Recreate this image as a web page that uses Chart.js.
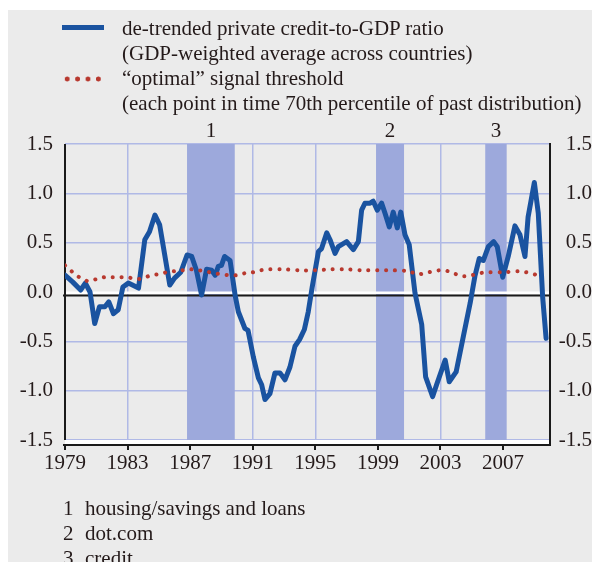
<!DOCTYPE html>
<html>
<head>
<meta charset="utf-8">
<script src="https://cdn.jsdelivr.net/npm/chart.js@4.4.1/dist/chart.umd.min.js"></script>
<style>
  html, body { margin: 0; padding: 0; background: #fff; }
  body { width: 592px; height: 562px; position: relative; overflow: hidden;
         font-family: 'Liberation Serif', 'DejaVu Serif', serif; color: #241a1a; }
  #panel { position: absolute; left: 8px; top: 10px; right: 0; bottom: 0; background: #ebebeb; }
  #chart { position: absolute; left: 0; top: 0; }
  .legend { position: absolute; left: 122px; top: 16px; font-size: 21px; line-height: 25px; white-space: nowrap; }
  .swatch { position: absolute; left: 62px; width: 42px; }
  .swatch.credit { top: 25px; height: 5px; background: #1a53a0; }
  .swatch.threshold { top: 76px; height: 6px;
    background: radial-gradient(circle, #b8392f 2.2px, transparent 2.8px) 0 0 / 10.4px 6px repeat-x; }
  .notes { position: absolute; left: 63px; top: 496px; font-size: 21px; line-height: 25px; white-space: nowrap; }
  .notes span { display: inline-block; width: 22px; }
</style>
</head>
<body>
<div id="panel"></div>
<canvas id="chart" width="592" height="562"></canvas>
<div class="swatch credit"></div>
<div class="swatch threshold"></div>
<div class="legend">
  de-trended private credit-to-GDP ratio<br>
  (GDP-weighted average across countries)<br>
  “optimal” signal threshold<br>
  (each point in time 70th percentile of past distribution)
</div>
<div class="notes">
  <div><span>1</span>housing/savings and loans</div>
  <div><span>2</span>dot.com</div>
  <div><span>3</span>credit</div>
</div>
<script>
// de-trended credit-to-GDP gap
const creditYears = [
  1979.0, 1979.5, 1980.0, 1980.3, 1980.6, 1980.9, 1981.2, 1981.55, 1981.8, 1982.1,
  1982.4, 1982.7, 1983.05, 1983.7, 1984.1, 1984.4, 1984.75, 1985.05, 1985.7, 1986.0,
  1986.4, 1986.8, 1987.1, 1987.4, 1987.73, 1988.05, 1988.37, 1988.6, 1988.8, 1989.0,
  1989.2, 1989.55, 1989.87, 1990.08, 1990.5, 1990.7, 1991.04, 1991.36, 1991.57, 1991.78,
  1992.1, 1992.42, 1992.74, 1993.06, 1993.38, 1993.7, 1994.0, 1994.3, 1994.55, 1994.8,
  1995.2, 1995.4, 1995.73, 1995.94, 1996.26, 1996.47, 1997.0, 1997.43, 1997.75, 1997.96,
  1998.17, 1998.5, 1998.7, 1998.96, 1999.24, 1999.45, 1999.73, 1999.98, 2000.24, 2000.46,
  2000.73, 2001.0, 2001.37, 2001.8, 2002.05, 2002.5, 2002.75, 2003.3, 2003.56, 2004.0,
  2004.46, 2004.9, 2005.2, 2005.48, 2005.74, 2006.06, 2006.4, 2006.63, 2006.98, 2007.33,
  2007.76, 2008.08, 2008.4, 2008.6, 2009.0, 2009.25, 2009.53, 2009.75,
];
const creditValues = [
  0.17, 0.10, 0.02, 0.09, 0.00, -0.32, -0.15, -0.15, -0.10, -0.22,
  -0.18, 0.05, 0.09, 0.04, 0.53, 0.61, 0.78, 0.68, 0.07, 0.14,
  0.20, 0.375, 0.36, 0.22, -0.03, 0.23, 0.22, 0.17, 0.26, 0.27,
  0.36, 0.32, -0.03, -0.20, -0.37, -0.39, -0.66, -0.87, -0.94, -1.09,
  -1.03, -0.82, -0.82, -0.89, -0.76, -0.55, -0.48, -0.38, -0.20, 0.05,
  0.41, 0.44, 0.60, 0.53, 0.39, 0.46, 0.51, 0.43, 0.51, 0.83,
  0.90, 0.90, 0.92, 0.83, 0.90, 0.80, 0.66, 0.81, 0.65, 0.81,
  0.58, 0.48, -0.01, -0.33, -0.86, -1.06, -0.94, -0.69, -0.91, -0.81,
  -0.45, -0.11, 0.16, 0.34, 0.32, 0.46, 0.51, 0.46, 0.15, 0.36,
  0.67, 0.58, 0.36, 0.76, 1.11, 0.80, -0.05, -0.47,
];

// "optimal" signal threshold
const thresholdYears = [
  1979.0, 1979.5, 1980.0, 1980.5, 1981.0, 1981.5, 1982.0, 1982.5, 1983.0, 1983.5,
  1984.0, 1984.5, 1985.0, 1985.5, 1986.0, 1986.5, 1987.0, 1987.5, 1988.0, 1988.5,
  1989.0, 1989.5, 1990.0, 1990.5, 1991.0, 1991.5, 1992.0, 1993.0, 1994.0, 1995.0,
  1996.0, 1997.0, 1998.0, 1999.0, 2000.0, 2001.0, 2001.5, 2002.0, 2002.5, 2003.0,
  2003.5, 2004.0, 2004.5, 2005.0, 2005.5, 2006.0, 2007.0, 2008.0, 2008.5, 2009.2,
];
const thresholdValues = [
  0.27, 0.20, 0.14, 0.11, 0.13, 0.15, 0.15, 0.15, 0.15, 0.13,
  0.14, 0.17, 0.18, 0.20, 0.21, 0.22, 0.23, 0.22, 0.21, 0.19,
  0.18, 0.17, 0.17, 0.19, 0.20, 0.22, 0.23, 0.23, 0.22, 0.22,
  0.23, 0.23, 0.22, 0.22, 0.22, 0.21, 0.18, 0.19, 0.21, 0.22,
  0.21, 0.18, 0.16, 0.17, 0.19, 0.20, 0.20, 0.21, 0.20, 0.17,
];

// boom episodes (shaded)
const episodeLabels = ['1', '2', '3'];
const episodeStarts = [1986.8, 1998.88, 2005.86];
const episodeEnds   = [1989.85, 2000.67, 2007.23];

const xTicks = [1979, 1983, 1987, 1991, 1995, 1999, 2003, 2007];
const yTicks = [-1.5, -1.0, -0.5, 0.0, 0.5, 1.0, 1.5];

const INK   = '#241a1a';
const FONT  = { family: "'Liberation Serif', serif", size: 21 };
const GRID  = '#b0b9e6';
const SHADE = '#9da9dc';

const toPoints = (xs, ys) => xs.map((x, i) => ({ x, y: ys[i] }));

const episodePlugin = {
  id: 'episodes',
  beforeDatasetsDraw(chart) {
    const { ctx, chartArea: a, scales: { x, y } } = chart;
    ctx.save();
    ctx.fillStyle = SHADE;
    episodeStarts.forEach((s, i) => {
      const x0 = x.getPixelForValue(s);
      const x1 = x.getPixelForValue(episodeEnds[i]);
      ctx.fillRect(x0, a.top, x1 - x0, a.bottom - a.top);
    });

    // zero line: white rule with a black rule just under it
    const y0 = y.getPixelForValue(0);
    ctx.fillStyle = '#fff';
    ctx.fillRect(a.left, y0 - 0.5, a.right - a.left, 2.5);
    ctx.fillStyle = '#1a1a1a';
    ctx.fillRect(a.left - 2, y0 + 2.5, a.right - a.left + 2, 2);

    // frame: white strip under plot, black axis lines
    ctx.fillStyle = '#fff';
    ctx.fillRect(a.left, a.bottom, a.right - a.left, 4);
    ctx.fillStyle = '#1a1a1a';
    ctx.fillRect(a.left - 1, a.top, 2, a.bottom - a.top);
    ctx.fillRect(a.right - 1, a.top - 1, 2, a.bottom - a.top + 6);
    ctx.fillRect(a.left - 2, a.bottom + 4, a.right - a.left + 3, 2);
    x.ticks.forEach(t => {
      const px = Math.round(x.getPixelForValue(t.value));
      ctx.fillRect(px - 1, a.bottom + 4, 2, 6);
    });
    ctx.restore();
  },
  afterDraw(chart) {
    const { ctx, chartArea: a, scales: { x } } = chart;
    ctx.save();
    ctx.fillStyle = INK;
    ctx.font = `${FONT.size}px ${FONT.family}`;
    ctx.textAlign = 'center';
    ctx.textBaseline = 'middle';
    episodeLabels.forEach((lab, i) => {
      const cx = (x.getPixelForValue(episodeStarts[i]) + x.getPixelForValue(episodeEnds[i])) / 2;
      ctx.fillText(lab, cx, a.top - 13);
    });
    ctx.restore();
  },
};

const yFormat = v => (Math.abs(v) < 1e-9 ? 0 : v).toFixed(1);

new Chart(document.getElementById('chart').getContext('2d'), {
  type: 'line',
  data: {
    datasets: [
      {
        label: 'threshold',
        data: toPoints(thresholdYears, thresholdValues),
        borderColor: '#b8392f',
        borderWidth: 4,
        borderDash: [0.1, 8.8],
        borderCapStyle: 'round',
        pointRadius: 0,
        tension: 0.3,
        fill: false,
      },
      {
        label: 'credit',
        data: toPoints(creditYears, creditValues),
        borderColor: '#1a53a0',
        borderWidth: 5,
        borderJoinStyle: 'round',
        borderCapStyle: 'round',
        pointRadius: 0,
        tension: 0,
        fill: false,
      },
    ],
  },
  options: {
    responsive: false,
    animation: false,
    devicePixelRatio: 1,
    layout: { padding: { top: 144, left: 0, right: 0, bottom: 0 } },
    plugins: { legend: { display: false }, tooltip: { enabled: false } },
    scales: {
      x: {
        type: 'linear',
        min: 1979,
        max: 2010,
        afterFit: s => { s.height = 122; },
        afterBuildTicks: s => { s.ticks = xTicks.map(v => ({ value: v })); },
        border: { display: false },
        grid: {
          drawTicks: false,
          lineWidth: 1.5,
          color: c => (c.tick && c.tick.value === 1979 ? 'rgba(0,0,0,0)' : GRID),
        },
        ticks: {
          padding: 11,
          color: INK,
          font: FONT,
          maxRotation: 0,
          autoSkip: false,
          callback: v => String(v),
        },
      },
      y: {
        position: 'left',
        min: -1.5,
        max: 1.5,
        afterFit: s => { s.width = 65; },
        afterBuildTicks: s => { s.ticks = yTicks.map(v => ({ value: v })); },
        border: { display: false },
        grid: {
          drawTicks: false,
          lineWidth: 1.5,
          color: c => (c.tick && c.tick.value === 0 ? 'rgba(0,0,0,0)' : GRID),
        },
        ticks: { padding: 12, color: INK, font: FONT, callback: yFormat },
      },
      y2: {
        position: 'right',
        min: -1.5,
        max: 1.5,
        afterFit: s => { s.width = 42; },
        afterBuildTicks: s => { s.ticks = yTicks.map(v => ({ value: v })); },
        border: { display: false },
        grid: { display: false, drawTicks: false },
        ticks: { padding: 9, crossAlign: 'far', color: INK, font: FONT, callback: yFormat },
      },
    },
  },
  plugins: [episodePlugin],
});
</script>
</body>
</html>
